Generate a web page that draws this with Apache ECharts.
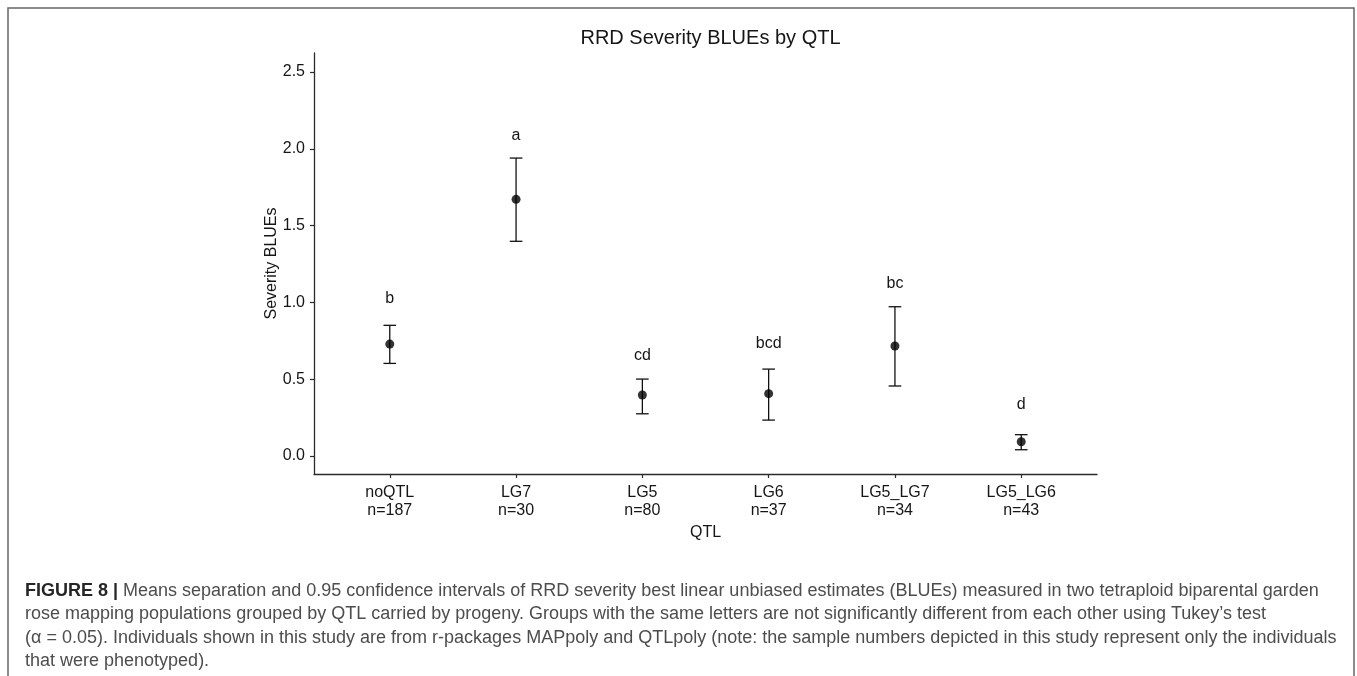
<!DOCTYPE html>
<html>
<head>
<meta charset="utf-8">
<script src="https://cdn.jsdelivr.net/npm/echarts@6/dist/echarts.min.js"></script>
<style>
html,body{margin:0;padding:0;background:#fff;}
#chart{width:1357px;height:676px;}
</style>
</head>
<body>
<div id="chart"></div>
<script>
// ---- data ----
const categories = ['noQTL', 'LG7', 'LG5', 'LG6', 'LG5_LG7', 'LG5_LG6'];
const sampleSizes = ['n=187', 'n=30', 'n=80', 'n=37', 'n=34', 'n=43'];
const means = [0.729, 1.671, 0.397, 0.406, 0.716, 0.093];
const lowerCI = [0.603, 1.398, 0.275, 0.234, 0.456, 0.041];
const upperCI = [0.851, 1.940, 0.501, 0.566, 0.972, 0.139];
const letters = ['b', 'a', 'cd', 'bcd', 'bc', 'd'];
const letterY = [1.026, 2.087, 0.657, 0.733, 1.123, 0.337];
const yTicks = [0, 0.5, 1.0, 1.5, 2.0, 2.5];
const captionLines = [
  '{b|FIGURE 8 |} Means separation and 0.95 confidence intervals of RRD severity best linear unbiased estimates (BLUEs) measured in two tetraploid biparental garden',
  'rose mapping populations grouped by QTL carried by progeny. Groups with the same letters are not significantly different from each other using Tukey\u2019s test',
  '(\u03b1 = 0.05). Individuals shown in this study are from r-packages MAPpoly and QTLpoly (note: the sample numbers depicted in this study represent only the individuals',
  'that were phenotyped).'
];

const FONT = '"Liberation Sans", Arial, Helvetica, sans-serif';
const TXT = '#161616';
const AX = '#2b2b2b';
const xIdx = categories.map((c, i) => i);

const chart = echarts.init(document.getElementById('chart'), null, {renderer: 'canvas'});

const graphics = [
  {type: 'rect', shape: {x: 8, y: 8, width: 1346, height: 720}, style: {fill: 'none', stroke: '#666', lineWidth: 1.5}, z: -1, silent: true}
];
captionLines.forEach((t, i) => {
  graphics.push({
    type: 'text', x: 25, y: 591 + i * 23.5, silent: true,
    style: {
      text: t, fill: '#4d4d4d', fontSize: 18, fontFamily: FONT, verticalAlign: 'middle', align: 'left',
      rich: {b: {fontWeight: 'bold', fill: '#262626', fontSize: 18, fontFamily: FONT}}
    }
  });
});

const option = {
  animation: false,
  backgroundColor: '#fff',
  title: {
    text: 'RRD Severity BLUEs by QTL',
    left: 705.5, top: 23, textAlign: 'center',
    textStyle: {fontSize: 20, fontWeight: 'normal', color: TXT, fontFamily: FONT}
  },
  grid: {left: 314, right: 260, top: 53, bottom: 202, containLabel: false},
  xAxis: {
    type: 'value', min: -0.6, max: 5.6,
    splitLine: {show: false},
    axisLine: {show: true, onZero: false, lineStyle: {color: AX, width: 1.3}},
    axisTick: {show: true, customValues: xIdx, length: 4, lineStyle: {color: AX, width: 1.2}},
    axisLabel: {
      customValues: xIdx, margin: 10, fontSize: 16, lineHeight: 18, color: TXT, fontFamily: FONT,
      formatter: v => categories[Math.round(v)] + '\n' + sampleSizes[Math.round(v)]
    },
    name: 'QTL', nameLocation: 'middle', nameGap: 51,
    nameTextStyle: {fontSize: 16, color: TXT, fontFamily: FONT}
  },
  yAxis: {
    type: 'value', min: -0.117, max: 2.624,
    splitLine: {show: false},
    axisLine: {show: true, onZero: false, lineStyle: {color: AX, width: 1.3}},
    axisTick: {show: true, customValues: yTicks, length: 4, lineStyle: {color: AX, width: 1.2}},
    axisLabel: {
      customValues: yTicks, margin: 9, fontSize: 16, color: TXT, fontFamily: FONT,
      formatter: v => Number(v).toFixed(1)
    },
    name: 'Severity BLUEs', nameLocation: 'middle', nameGap: 34, nameRotate: 90,
    nameMoveOverlap: false,
    nameTextStyle: {fontSize: 16, color: TXT, fontFamily: FONT}
  },
  graphic: graphics,
  series: [
    {
      type: 'custom',
      data: xIdx.map(i => [i, lowerCI[i], upperCI[i]]),
      encode: {x: 0, y: [1, 2]},
      renderItem: function (params, api) {
        const x = api.value(0);
        const lo = api.coord([x, api.value(1)]);
        const hi = api.coord([x, api.value(2)]);
        const hw = api.size([0.1, 0])[0] / 2;
        const st = {stroke: '#111', lineWidth: 1.3};
        return {
          type: 'group',
          children: [
            {type: 'line', shape: {x1: lo[0], y1: lo[1], x2: hi[0], y2: hi[1]}, style: st},
            {type: 'line', shape: {x1: lo[0] - hw, y1: lo[1], x2: lo[0] + hw, y2: lo[1]}, style: st},
            {type: 'line', shape: {x1: hi[0] - hw, y1: hi[1], x2: hi[0] + hw, y2: hi[1]}, style: st}
          ]
        };
      },
      z: 2
    },
    {
      type: 'scatter',
      data: xIdx.map(i => [i, means[i]]),
      symbol: 'circle', symbolSize: 9,
      itemStyle: {color: '#000'},
      z: 3
    },
    {
      type: 'custom',
      data: xIdx.map(i => [i, letterY[i]]),
      encode: {x: 0, y: 1},
      renderItem: function (params, api) {
        const p = api.coord([api.value(0), api.value(1)]);
        return {
          type: 'text', x: p[0], y: p[1],
          style: {text: letters[params.dataIndex], fill: TXT, fontSize: 16, fontFamily: FONT, align: 'center', verticalAlign: 'middle'}
        };
      },
      z: 4
    }
  ]
};
chart.setOption(option);
</script>
</body>
</html>
